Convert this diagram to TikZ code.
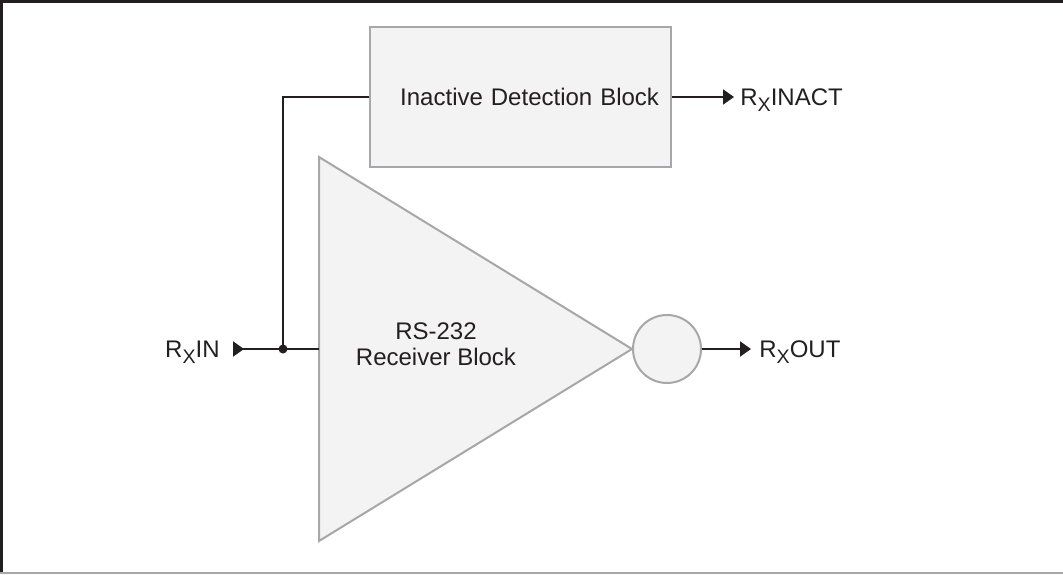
\documentclass[tikz,border=0pt]{standalone}
\usepackage{fontspec}
\setmainfont{Liberation Sans}
\usetikzlibrary{arrows.meta,positioning}
\definecolor{blockgray}{HTML}{F3F3F3}
\definecolor{edgegray}{HTML}{A7A7A9}
\definecolor{ink}{HTML}{231F20}
\tikzstyle{greyfill}=[line width=1pt,
	draw=edgegray,
	fill=blockgray]
\tikzstyle{block}=[rectangle,
	greyfill,
	inner ysep=0pt]
\tikzstyle{wire}=[line width=1pt,
	draw=ink]
\tikzstyle{sig}=[inner sep=0pt,
	text=ink,
	text height=8.6pt,
	text depth=0pt]
\newcommand{\sigrx}[1]{R\raisebox{-3pt}{\fontsize{9.8}{10}\selectfont X}#1}

\begin{document}
\begin{tikzpicture}[x=0.5pt,y=0.5pt,font=\fontsize{12}{13}\selectfont,text=ink]
\useasboundingbox (0,0) rectangle (1063,574);
% frame
\draw[ink, line width=1.5pt] (1,0) -- (1,572) -- (1063,572);
\draw[edgegray, line width=1pt] (0,1) -- (1063,1);

% blocks
\node (detect) [block, minimum width=150.5pt, minimum height=70pt, text width=138.5pt, align=right, inner xsep=6pt] at (520.5,477) {Inactive Detection Block};
\coordinate (tritop) at (319,417);
\coordinate (tribot) at (319,33);
\coordinate (apex) at (632,225);
\draw[greyfill] (tritop) -- (apex) -- (tribot) -- cycle;
\node (recv) [align=center] at (436,230) {RS-232\\Receiver Block};
\node (buf) [circle, greyfill, minimum size=34pt, inner sep=0pt] at (667,225) {};

% input
\coordinate (pin) at (233,225);
\node (rxin) [sig, left=6.5pt of pin] {\sigrx{IN}};
\node (jn) [circle, fill=ink, minimum size=4.5pt, inner sep=0pt] at (283,225) {};
\draw[wire, {Triangle[reversed,length=5.5pt,width=7.5pt]}-] (pin) -- (tritop |- pin);
\draw[wire] (jn.center) |- (detect.west);

% outputs
\node (rxinact) [sig, right=34pt of detect] {\sigrx{INACT}};
\draw[wire, -{Triangle[length=5.5pt,width=7.5pt]}, shorten >=3pt] (detect) -- (rxinact);
\node (rxout) [sig, right=28.5pt of buf] {\sigrx{OUT}};
\draw[wire, -{Triangle[length=5.5pt,width=7.5pt]}, shorten >=4pt] (buf) -- (rxout);
\end{tikzpicture}
\end{document}
